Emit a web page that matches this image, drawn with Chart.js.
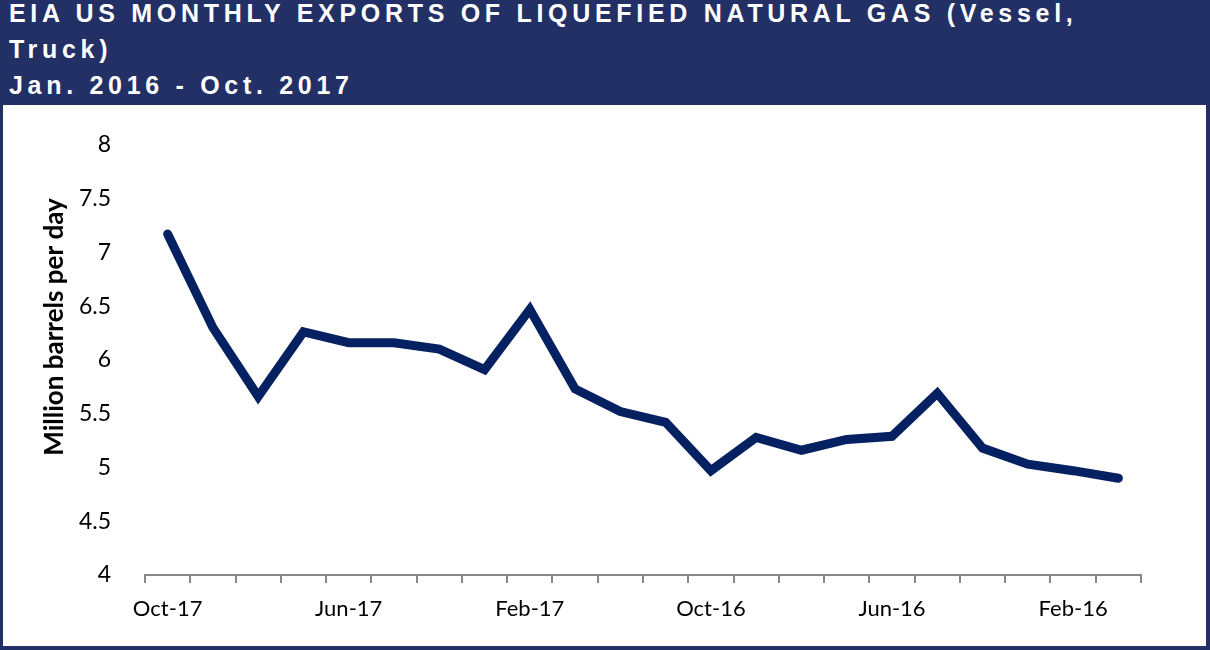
<!DOCTYPE html>
<html>
<head>
<meta charset="utf-8">
<script src="https://cdn.jsdelivr.net/npm/chart.js@4"></script>
<style>
  body { margin: 0; }
  #frame { position: relative; width: 1210px; height: 650px; background: #233066; overflow: hidden; }
  #head { position: absolute; left: 9px; top: -5px; color: #fff; font-family: "Liberation Sans", Arial, sans-serif;
          font-weight: bold; font-size: 25px; letter-spacing: 4.7px; line-height: 36px; white-space: nowrap; }
  #plot { position: absolute; left: 3px; top: 105px; width: 1203px; height: 541px; background: #fff; }
</style>
</head>
<body>
<div id="frame">
  <div id="head">EIA US MONTHLY EXPORTS OF LIQUEFIED NATURAL GAS (Vessel,<br>Truck)<br>Jan. 2016 - Oct. 2017</div>
  <div id="plot"><canvas id="lng"></canvas></div>
</div>
<script>
// months as shown, newest first
var months = ['Oct-17', 'Sep-17', 'Aug-17', 'Jul-17', 'Jun-17', 'May-17', 'Apr-17', 'Mar-17', 'Feb-17', 'Jan-17', 'Dec-16',
              'Nov-16', 'Oct-16', 'Sep-16', 'Aug-16', 'Jul-16', 'Jun-16', 'May-16', 'Apr-16', 'Mar-16', 'Feb-16', 'Jan-16'];
var exports = [7.17, 6.30, 5.66, 6.26, 6.16, 6.16, 6.10, 5.91, 6.47, 5.73, 5.52,
               5.42, 4.97, 5.28, 5.16, 5.26, 5.29, 5.69, 5.18, 5.03, 4.97, 4.90];
var yMin = 4, yMax = 8, yStep = 0.5;
var yTitle = 'Million barrels per day';

// y title sits a bit above the axis middle in the original, so draw it by hand
var yTitlePlugin = {
    id: 'yTitle',
    afterDraw: function (chart) {
        var c = chart.ctx;
        c.save();
        c.translate(52, 222);
        c.rotate(-Math.PI / 2);
        c.font = 'bold 26px Lato';
        c.fillStyle = '#000';
        c.textAlign = 'center';
        c.textBaseline = 'middle';
        c.fillText(yTitle, 0, 0);
        c.restore();
    }
};

var ctx = document.getElementById('lng').getContext('2d');
var lngChart = new Chart(ctx, {
    type: 'line',
    data: {
        labels: months,
        datasets: [{
            data: exports,
            borderColor: '#062161',
            borderWidth: 9,
            borderCapStyle: 'round',
            borderJoinStyle: 'miter',
            pointRadius: 0,
            tension: 0
        }]
    },
    options: {
        responsive: true,
        maintainAspectRatio: false,
        animation: false,
        layout: { padding: { top: 35, right: 65, left: 0, bottom: 0 } },
        plugins: { legend: { display: false }, tooltip: { enabled: false } },
        scales: {
            x: {
                offset: true,
                grid: { display: true, drawOnChartArea: false, offset: true, color: '#888888', lineWidth: 2, tickLength: 8 },
                border: { display: true, color: '#888888', width: 2 },
                ticks: {
                    autoSkip: false, maxRotation: 0, padding: 13, color: '#000',
                    font: { family: 'Lato', size: 22 },
                    callback: function (v, i) { return i % 4 === 0 ? months[i] : ''; }
                },
                afterFit: function (s) { s.height = 71; }
            },
            y: {
                min: yMin, max: yMax,
                grid: { display: false },
                border: { display: false },
                ticks: { stepSize: yStep, padding: 26, color: '#000', font: { family: 'Lato', size: 23 },
                         callback: function (v) { return String(v); } },
                afterFit: function (s) { s.width = 142; }
            }
        }
    },
    plugins: [yTitlePlugin]
});
</script>
</body>
</html>
